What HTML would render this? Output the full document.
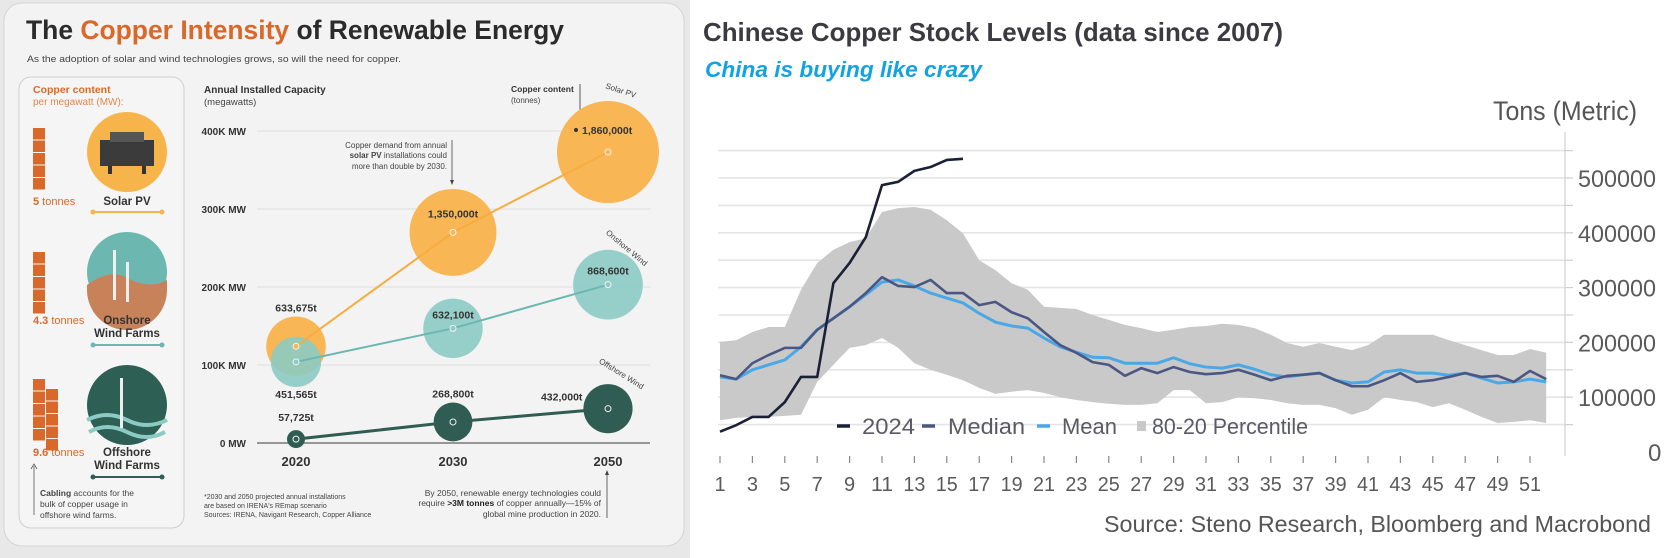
<!DOCTYPE html>
<html><head><meta charset="utf-8"><style>
html,body{margin:0;padding:0;background:#fff;}
svg{display:block;font-family:"Liberation Sans",sans-serif;}
</style></head><body>
<svg id="root" width="1665" height="558" viewBox="0 0 1665 558" xmlns="http://www.w3.org/2000/svg">
<!-- LEFT PANEL -->
<g id="left">
<rect x="0" y="0" width="690" height="558" fill="#e8e8e8"/>
<rect x="4" y="3" width="680" height="543" rx="18" fill="#f3f3f3" stroke="#d4d4d4"/>
<text x="26" y="39" font-size="27" font-weight="bold" fill="#2b2b2b" textLength="538" lengthAdjust="spacingAndGlyphs">The <tspan fill="#d9692a">Copper Intensity</tspan> of Renewable Energy</text>
<text x="27" y="62" font-size="9.5" fill="#444" textLength="374" lengthAdjust="spacingAndGlyphs">As the adoption of solar and wind technologies grows, so will the need for copper.</text>
<rect x="19" y="77" width="165" height="451" rx="12" fill="#f5f5f5" stroke="#cfcfcf"/>
<text x="33" y="93" font-size="10.5" font-weight="bold" fill="#d9692a">Copper content</text>
<text x="33" y="105" font-size="10" fill="#e0874f">per megawatt (MW):</text>
<g id="bricks"></g>
<circle cx="127" cy="152" r="40" fill="#f7b44a"/>
<g><rect x="100" y="140" width="54" height="26" fill="#3b3b3b"/><rect x="110" y="132" width="34" height="10" fill="#555"/><rect x="108" y="166" width="4" height="8" fill="#333"/><rect x="142" y="166" width="4" height="8" fill="#333"/></g>
<circle cx="127" cy="272" r="40" fill="#6cb8b0"/>
<path d="M87 285 Q110 268 127 278 Q150 290 167 280 L167 290 A40 40 0 0 1 87 290Z" fill="#c7825a"/>
<rect x="113" y="250" width="3" height="50" fill="#eee"/><rect x="126" y="262" width="3" height="40" fill="#eee"/>
<circle cx="127" cy="405" r="40" fill="#2d5f55"/>
<path d="M87 420 Q107 410 127 420 Q147 430 167 420" stroke="#8ccbc4" stroke-width="4" fill="none"/>
<path d="M89 432 Q107 422 127 432 Q147 442 165 432" stroke="#8ccbc4" stroke-width="4" fill="none"/>
<rect x="120" y="378" width="3" height="50" fill="#eee"/>
<text x="33" y="205" font-size="11" fill="#d9692a"><tspan font-weight="bold">5</tspan> tonnes</text>
<text x="127" y="205" font-size="11.5" font-weight="bold" fill="#333" text-anchor="middle">Solar PV</text>
<line x1="93" y1="212" x2="162" y2="212" stroke="#f7b44a" stroke-width="2"/><circle cx="93" cy="212" r="2.5" fill="#f7b44a"/><circle cx="162" cy="212" r="2.5" fill="#f7b44a"/>
<text x="33" y="324" font-size="11" fill="#d9692a"><tspan font-weight="bold">4.3</tspan> tonnes</text>
<text x="127" y="324" font-size="11.5" font-weight="bold" fill="#333" text-anchor="middle">Onshore</text>
<text x="127" y="337" font-size="11.5" font-weight="bold" fill="#333" text-anchor="middle">Wind Farms</text>
<line x1="93" y1="345" x2="162" y2="345" stroke="#6cb8b0" stroke-width="2"/><circle cx="93" cy="345" r="2.5" fill="#6cb8b0"/><circle cx="162" cy="345" r="2.5" fill="#6cb8b0"/>
<text x="33" y="456" font-size="11" fill="#d9692a"><tspan font-weight="bold">9.6</tspan> tonnes</text>
<text x="127" y="456" font-size="11.5" font-weight="bold" fill="#333" text-anchor="middle">Offshore</text>
<text x="127" y="469" font-size="11.5" font-weight="bold" fill="#333" text-anchor="middle">Wind Farms</text>
<line x1="93" y1="477" x2="162" y2="477" stroke="#2d5f55" stroke-width="2"/><circle cx="93" cy="477" r="2.5" fill="#2d5f55"/><circle cx="162" cy="477" r="2.5" fill="#2d5f55"/>
<line x1="34" y1="515" x2="34" y2="466" stroke="#555" stroke-width="0.8"/><path d="M31 469 L34 464 L37 469" fill="none" stroke="#555" stroke-width="0.8"/>
<g font-size="8.5" fill="#444"><text x="40" y="496"><tspan font-weight="bold">Cabling</tspan> accounts for the</text><text x="40" y="507">bulk of copper usage in</text><text x="40" y="518">offshore wind farms.</text></g>
<text x="204" y="93" font-size="10" font-weight="bold" fill="#333">Annual Installed Capacity</text>
<text x="204" y="105" font-size="9.5" fill="#444">(megawatts)</text>
<text x="511" y="92" font-size="8.5" font-weight="bold" fill="#333">Copper content</text>
<text x="511" y="103" font-size="8" fill="#444">(tonnes)</text>
<line x1="580" y1="84" x2="580" y2="127" stroke="#333" stroke-width="0.8"/>
<g font-size="8" fill="#444" text-anchor="end"><text x="447" y="148">Copper demand from annual</text><text x="447" y="158"><tspan font-weight="bold">solar PV</tspan> installations could</text><text x="447" y="169">more than double by 2030.</text></g>
<line x1="452" y1="140" x2="452" y2="183" stroke="#444" stroke-width="0.8"/><path d="M450 180 L452 185 L454 180" fill="#444"/>
<g id="leftchart"></g>
<g font-size="7" fill="#444"><text x="204" y="499">*2030 and 2050 projected annual installations</text><text x="204" y="508">are based on IRENA's REmap scenario</text><text x="204" y="517">Sources: IRENA, Navigant Research, Copper Alliance</text></g>
<g font-size="8.5" fill="#444" text-anchor="end"><text x="601" y="496">By 2050, renewable energy technologies could</text><text x="601" y="506">require <tspan font-weight="bold" fill="#222">&gt;3M tonnes</tspan> of copper annually—15% of</text><text x="601" y="517">global mine production in 2020.</text></g>
<line x1="607" y1="518" x2="607" y2="472" stroke="#444" stroke-width="0.8"/><path d="M605 475 L607 470 L609 475" fill="#444"/>
</g>
<!-- RIGHT PANEL -->
<g id="right">
<text x="703" y="41" font-size="26" font-weight="bold" fill="#3a3a40" textLength="580" lengthAdjust="spacingAndGlyphs">Chinese Copper Stock Levels (data since 2007)</text>
<text x="705" y="77" font-size="22" font-weight="bold" font-style="italic" fill="#12a3e0" textLength="277" lengthAdjust="spacingAndGlyphs">China is buying like crazy</text>
<text x="1493" y="120" font-size="27" fill="#555" textLength="144" lengthAdjust="spacingAndGlyphs">Tons (Metric)</text>
<g id="rightchart"></g>
<text x="1651" y="532" font-size="23" fill="#555" text-anchor="end" textLength="547" lengthAdjust="spacingAndGlyphs">Source: Steno Research, Bloomberg and Macrobond</text>
</g>
</svg>
<script>
// ---------- Left chart data ----------
const years = ["2020", "2030", "2050"];
const solarMW = [124, 270, 373];
const onshoreMW = [104, 147, 203];
const offshoreMW = [5, 27, 44];
const solarCu = [633675, 1350000, 1860000];
const onshoreCu = [451565, 632100, 868600];
const offshoreCu = [57725, 268800, 432000];
const capTicks = [0, 100, 200, 300, 400];
const capTickLabels = ["0 MW", "100K MW", "200K MW", "300K MW", "400K MW"];

// ---------- Right chart data (thousand tonnes) ----------
const weeks = [];
for (let i = 1; i <= 52; i++) weeks.push(i);
const y2024 = [37,49,64,64,91,137,137,308,345,392,487,493,513,520,533,535];
const upper = [201,204,219,228,228,296,345,369,383,390,438,445,447,442,423,399,350,332,308,
  296,265,263,261,250,241,232,226,219,223,228,230,234,232,226,214,199,192,199,192,186,195,214,
  214,214,214,204,195,186,177,177,188,181];
const lower = [58,62,64,64,66,68,128,159,190,195,208,190,162,150,141,131,117,106,110,
  113,108,100,95,91,88,86,86,89,113,113,89,91,100,98,95,89,86,86,80,68,77,100,
  95,91,82,89,77,64,53,55,58,53];
const median = [140,133,162,177,190,190,223,244,265,290,319,303,301,314,290,290,268,274,255,
  244,219,195,181,164,159,139,153,144,155,146,142,144,150,141,131,139,141,144,131,120,120,131,
  144,128,131,137,144,137,139,128,148,133];
const mean = [137,133,150,159,168,192,223,244,265,287,310,314,303,290,281,272,253,237,230,
  226,208,192,182,173,172,162,162,162,172,161,155,153,159,151,141,137,141,144,131,126,128,146,
  150,144,144,140,144,135,126,128,133,128];
const yTickVals = [0, 100, 200, 300, 400, 500];
const yTickLabels = ["0", "100000", "200000", "300000", "400000", "500000"];
const legendLabels = ["2024", "Median", "Mean", "80-20 Percentile"];

const NS = "http://www.w3.org/2000/svg";
function mk(tag, attrs, parent) {
  const e = document.createElementNS(NS, tag);
  for (const k in attrs) e.setAttribute(k, attrs[k]);
  parent.appendChild(e);
  return e;
}

// bricks
(function(){
  const g = document.getElementById('bricks');
  const cols = [[128, 5, 1], [252, 4.3, 1], [379, 9.6, 2]];
  cols.forEach(([top, n, nc]) => {
    const rows = Math.ceil(n / nc);
    for (let c = 0; c < nc; c++) {
      const cnt = c === 0 ? rows : Math.max(0, Math.ceil(n) - rows);
      for (let r = 0; r < cnt; r++) {
        const yy = (c === 0 ? top : top + 10) + r * 12.5;
        const b = mk('rect', {x: 33 + c * 13, y: yy, width: 12, height: 11.5, fill: '#d9692a'}, g);
        
        
      }
    }
  });
})();

// left bubble chart
(function(){
  const g = document.getElementById('leftchart');
  const xPos = i => [296, 453, 608][i];
  const yC = v => 443 - v * 0.78;
  const rC = t => Math.sqrt(t) * 0.0374;
  capTicks.forEach((t, i) => {
    const gl = mk('line', {x1: 257, x2: 650, y1: yC(t), y2: yC(t), stroke: t === 0 ? '#777' : '#dedede', 'stroke-width': t === 0 ? 1.5 : 1}, g);
    
    
    const tl = mk('text', {x: 246, y: yC(t) + 4, 'font-size': 10, 'font-weight': 'bold', fill: '#333', 'text-anchor': 'end'}, g);
    tl.textContent = capTickLabels[i];
    
    
  });
  years.forEach((y, i) => {
    const t = mk('text', {x: xPos(i), y: 466, 'font-size': 13, 'font-weight': 'bold', fill: '#333', 'text-anchor': 'middle'}, g);
    t.textContent = y;
    
    
  });
  const series = [
    {mw: solarMW, cu: solarCu, fill: '#f8b654', line: '#f6ad3f', lw: 2, name: 'solar-pv'},
    {mw: onshoreMW, cu: onshoreCu, fill: '#8ccbc4', line: '#6cb8b0', lw: 2, name: 'onshore-wind', op: 0.9},
    {mw: offshoreMW, cu: offshoreCu, fill: '#2f5d53', line: '#2f5d53', lw: 3, name: 'offshore-wind'}
  ];
  series.forEach(s => {
    s.mw.forEach((v, i) => {
      const c = mk('circle', {cx: xPos(i), cy: yC(v), r: rC(s.cu[i]), fill: s.fill, 'fill-opacity': s.op || 1}, g);
      
      
    });
  });
  series.forEach(s => {
    const pts = s.mw.map((v, i) => xPos(i) + ',' + yC(v)).join(' ');
    const p = mk('polyline', {points: pts, fill: 'none', stroke: s.line, 'stroke-width': s.lw}, g);
    
    
    s.mw.forEach((v, i) => {
      const d = mk('circle', {cx: xPos(i), cy: yC(v), r: 3, fill: s.fill, stroke: '#f3f3f3', 'stroke-width': 1}, g);
      
      
    });
  });
  const fmt = n => n.toLocaleString('en-US') + 't';
  const labs = [
    [solarCu[0], xPos(0), yC(solarMW[0]) - rC(solarCu[0]) - 5, 'middle'],
    [solarCu[1], xPos(1), yC(solarMW[1]) - 15, 'middle'],
    [onshoreCu[0], xPos(0), yC(onshoreMW[0]) + rC(onshoreCu[0]) + 11, 'middle'],
    [onshoreCu[1], xPos(1), yC(onshoreMW[1]) - 10, 'middle'],
    [onshoreCu[2], xPos(2), yC(onshoreMW[2]) - 10, 'middle'],
    [offshoreCu[0], xPos(0), yC(offshoreMW[0]) - rC(offshoreCu[0]) - 9, 'middle'],
    [offshoreCu[1], xPos(1), yC(offshoreMW[1]) - rC(offshoreCu[1]) - 5, 'middle'],
    [offshoreCu[2], xPos(2) - rC(offshoreCu[2]) - 1, yC(offshoreMW[2]) - 8, 'end'],
    [solarCu[2], 582, 134, 'start']
  ];
  labs.forEach(l => {
    const t = mk('text', {x: l[1], y: l[2], 'font-size': 10.5, 'font-weight': 'bold', fill: '#333', 'text-anchor': l[3]}, g);
    t.textContent = fmt(l[0]);
    
    
  });
  mk('circle', {cx: 576, cy: 130, r: 2, fill: '#333'}, g);
  const curved = [['Solar PV', 620, 93, 18], ['Onshore Wind', 625, 250, 40], ['Offshore Wind', 620, 376, 32]];
  curved.forEach(c => {
    const t = mk('text', {x: c[1], y: c[2], 'font-size': 8, fill: '#444', 'text-anchor': 'middle', transform: 'rotate(' + c[3] + ' ' + c[1] + ' ' + c[2] + ')'}, g);
    t.textContent = c[0];
    
    
  });
})();

// right chart
(function(){
  const g = document.getElementById('rightchart');
  const X0 = 720, DX = 16.2;
  const xW = w => X0 + (w - 1) * DX;
  const yV = v => 452 - v * 0.548;
  // gridlines every 50k
  for (let v = 50; v <= 550; v += 50) {
    const gl = mk('line', {x1: 718, x2: 1565, y1: yV(v), y2: yV(v), stroke: '#e4e4e4', 'stroke-width': 1.6}, g);
    
    
    mk('line', {x1: 1565, x2: 1573, y1: yV(v), y2: yV(v), stroke: '#cfcfcf', 'stroke-width': 1.2}, g);
  }
  const ax = mk('line', {x1: 1565, x2: 1565, y1: 132, y2: 456, stroke: '#d0d0d0', 'stroke-width': 1.2}, g);
  
  
  yTickVals.forEach((v, i) => {
    const t = mk('text', {x: 1578, y: yV(v) + 9, 'font-size': 24, fill: '#5a5a5a'}, g);
    if (v === 0) t.setAttribute('x', 1648);
    t.textContent = yTickLabels[i];
    if (v !== 0) { t.setAttribute('textLength', 78); t.setAttribute('lengthAdjust', 'spacingAndGlyphs'); }
    
    
  });
  // band
  let d = 'M' + weeks.map((w, i) => xW(w) + ',' + yV(upper[i])).join(' L');
  d += ' L' + weeks.slice().reverse().map(w => xW(w) + ',' + yV(lower[w - 1])).join(' L') + ' Z';
  const band = mk('path', {d: d, fill: '#c9c9c9'}, g);
  
  
  const line = (arr, col, lw, name) => {
    const p = mk('polyline', {points: arr.map((v, i) => xW(i + 1) + ',' + yV(v)).join(' '), fill: 'none', stroke: col, 'stroke-width': lw, 'stroke-linejoin': 'round'}, g);
    
    
  };
  line(mean, '#4aa8e6', 3, 'mean-line');
  line(median, '#4b5783', 2.6, 'median-line');
  line(y2024, '#1a2035', 2.6, 'line-2024');
  // x axis ticks and labels
  weeks.forEach(w => {
    if (w % 2 === 1) {
      mk('line', {x1: xW(w), x2: xW(w), y1: 456, y2: 463, stroke: '#888', 'stroke-width': 1.2}, g);
      const t = mk('text', {x: xW(w), y: 491, 'font-size': 20, fill: '#5a5a5a', 'text-anchor': 'middle'}, g);
      t.textContent = String(w);
      if (w >= 10) { t.setAttribute('textLength', 22); t.setAttribute('lengthAdjust', 'spacingAndGlyphs'); }
      
      
    }
  });
  // legend
  const lg = mk('g', {}, g);
  
  
  const items = [
    {x: 837, col: '#1a2035', tx: 862, tl: 53},
    {x: 922, col: '#4b5783', tx: 948, tl: 77},
    {x: 1037, col: '#4aa8e6', tx: 1062, tl: 55},
    {x: 1137, col: '#c9c9c9', tx: 1152, tl: 156, sq: true}
  ];
  items.forEach((it, i) => {
    if (it.sq) mk('rect', {x: it.x, y: 421, width: 9, height: 10, fill: it.col}, lg);
    else mk('line', {x1: it.x, x2: it.x + 13, y1: 426, y2: 426, stroke: it.col, 'stroke-width': 3.5}, lg);
    const t = mk('text', {x: it.tx, y: 434, 'font-size': 22, fill: '#5a5a66', textLength: it.tl, lengthAdjust: 'spacingAndGlyphs'}, lg);
    t.textContent = legendLabels[i];
    
    
  });
})();
</script>
</body></html>
